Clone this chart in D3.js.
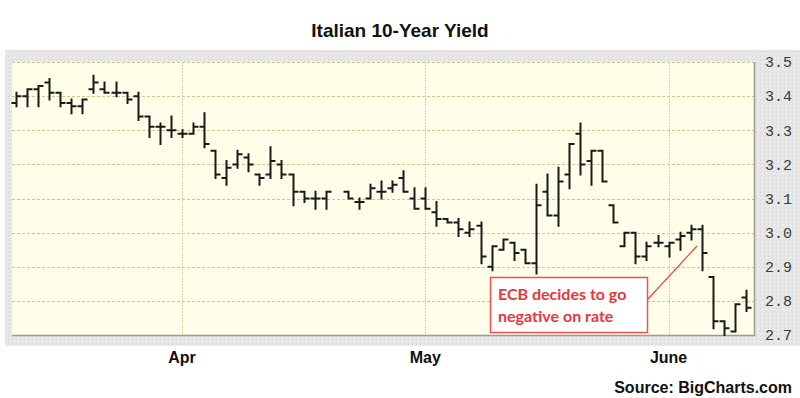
<!DOCTYPE html>
<html>
<head>
<meta charset="utf-8">
<script src="https://cdn.jsdelivr.net/npm/d3@7"></script>
<style>
  body { margin: 0; background: #fff; }
</style>
</head>
<body>
<script>
// trading days (Apr 21 is an empty slot)
const days = ["03-11","03-12","03-13","03-14","03-17","03-18","03-19","03-20","03-21","03-24",
  "03-25","03-26","03-27","03-28","03-31","04-01","04-02","04-03","04-04","04-07",
  "04-08","04-09","04-10","04-11","04-14","04-15","04-16","04-17","04-18","04-21",
  "04-22","04-23","04-24","04-25","04-28","04-29","04-30","05-01","05-02","05-05",
  "05-06","05-07","05-08","05-09","05-12","05-13","05-14","05-15","05-16","05-19",
  "05-20","05-21","05-22","05-23","05-26","05-27","05-28","05-29","05-30","06-02",
  "06-03","06-04","06-05","06-06","06-09","06-10","06-11"];

const open = [3.38,3.40,3.42,3.44,3.41,3.38,3.37,3.42,3.42,3.41,
  3.41,3.40,3.34,3.31,3.30,3.29,3.29,3.31,3.24,3.16,
  3.20,3.22,3.17,3.17,3.20,3.17,3.12,3.10,3.10,null,
  3.12,3.09,3.10,3.12,3.13,3.16,3.10,3.10,3.06,3.04,
  3.03,3.00,3.02,2.90,2.95,2.97,2.95,2.91,3.12,3.05,
  3.17,3.29,3.21,3.24,3.08,2.96,3.00,2.93,2.97,2.96,
  2.98,3.00,3.01,2.87,2.74,2.71,2.81];
const high = [3.41,3.42,3.43,3.45,3.41,3.39,3.39,3.46,3.44,3.44,
  3.41,3.41,3.34,3.32,3.34,3.30,3.32,3.35,3.24,3.21,
  3.24,3.23,3.17,3.25,3.21,3.17,3.12,3.12,3.12,null,
  3.12,3.10,3.14,3.15,3.15,3.18,3.13,3.13,3.09,3.04,
  3.04,3.03,3.03,2.96,2.98,2.97,2.95,3.14,3.17,3.19,
  3.26,3.32,3.24,3.24,3.08,3.00,3.00,2.97,2.99,2.97,
  3.00,3.02,3.02,2.87,2.74,2.79,2.83];
const low = [3.37,3.37,3.37,3.39,3.37,3.35,3.35,3.41,3.41,3.40,
  3.38,3.33,3.28,3.26,3.28,3.28,3.29,3.25,3.16,3.14,
  3.19,3.18,3.14,3.16,3.16,3.08,3.09,3.07,3.07,null,
  3.10,3.07,3.10,3.10,3.12,3.12,3.07,3.07,3.02,3.03,
  2.99,2.99,2.91,2.89,2.95,2.92,2.91,2.88,3.05,3.02,
  3.13,3.17,3.14,3.15,3.03,2.96,2.91,2.92,2.96,2.93,
  2.95,2.98,2.89,2.72,2.70,2.71,2.77];
const close = [3.40,3.42,3.43,3.41,3.38,3.37,3.39,3.44,3.41,3.41,
  3.39,3.34,3.31,3.31,3.30,3.29,3.31,3.26,3.17,3.19,
  3.23,3.20,3.16,3.21,3.17,3.12,3.10,3.10,3.12,null,
  3.10,3.09,3.13,3.12,3.14,3.12,3.07,3.07,3.04,3.03,
  3.01,3.01,2.93,2.96,2.98,2.94,2.91,3.08,3.05,3.15,
  3.26,3.20,3.24,3.15,3.03,3.00,2.93,2.96,2.97,2.97,
  2.99,3.01,2.94,2.74,2.72,2.79,2.78];

const monthDays = ["04-01", "05-01", "06-02"];
const monthLabels = ["Apr", "May", "June"];
const yTicks = [2.7, 2.8, 2.9, 3.0, 3.1, 3.2, 3.3, 3.4, 3.5];

const width = 800;
const height = 398;
const plot = { left: 12, top: 62, right: 754, bottom: 335 };

const bars = days.map((d, i) => ({ day: d, o: open[i], h: high[i], l: low[i], c: close[i] }))
  .filter(d => d.o != null);

const svg = d3.create("svg")
  .attr("viewBox", [0, 0, width, height])
  .attr("width", width)
  .attr("height", height)
  .style("font-family", "'Liberation Sans', Arial, sans-serif");

// speckled grey frame
const defs = svg.append("defs");
const pat = defs.append("pattern")
  .attr("id", "speckle")
  .attr("width", 4).attr("height", 4)
  .attr("patternUnits", "userSpaceOnUse");
pat.append("rect").attr("width", 4).attr("height", 4).attr("fill", "#e8e8e8");
pat.append("rect").attr("x", 0).attr("y", 0).attr("width", 1).attr("height", 1).attr("fill", "#d6d6d6");
pat.append("rect").attr("x", 2).attr("y", 1).attr("width", 1).attr("height", 1).attr("fill", "#f4f4f4");
pat.append("rect").attr("x", 1).attr("y", 3).attr("width", 1).attr("height", 1).attr("fill", "#d9d9d9");
pat.append("rect").attr("x", 3).attr("y", 2).attr("width", 1).attr("height", 1).attr("fill", "#dcdcdc");

svg.append("rect")
  .attr("x", 5).attr("y", 50)
  .attr("width", 795).attr("height", 296)
  .attr("fill", "url(#speckle)");

svg.append("rect")
  .attr("x", plot.left).attr("y", plot.top)
  .attr("width", plot.right - plot.left).attr("height", plot.bottom - plot.top)
  .attr("fill", "#fffee8");

const x = d3.scalePoint()
  .domain(days)
  .range([16, 746]);

const y = d3.scaleLinear()
  .domain([2.7, 3.5])
  .range([plot.bottom, plot.top]);

// horizontal grid
svg.append("g")
  .selectAll("line")
  .data(yTicks)
  .join("line")
  .attr("x1", plot.left).attr("x2", plot.right)
  .attr("y1", d => Math.round(y(d)) + 0.5)
  .attr("y2", d => Math.round(y(d)) + 0.5)
  .attr("stroke", "#d2c48e")
  .attr("stroke-dasharray", "3,2");

// month grid
svg.append("g")
  .selectAll("line")
  .data(monthDays)
  .join("line")
  .attr("x1", d => Math.round(x(d)) + 0.5)
  .attr("x2", d => Math.round(x(d)) + 0.5)
  .attr("y1", plot.top).attr("y2", plot.bottom)
  .attr("stroke", "#d8d3a4")
  .attr("stroke-dasharray", "2,1");

// plot bevel
svg.append("path")
  .attr("d", `M${plot.right + 0.5},${plot.top}V${plot.bottom + 0.5}H${plot.left}`)
  .attr("fill", "none")
  .attr("stroke", "#9a9a9a")
  .attr("stroke-width", 1.5);

// OHLC bars
const g = svg.append("g")
  .attr("stroke", "#1a1a1a")
  .attr("stroke-width", 2)
  .attr("fill", "none");

g.selectAll("path")
  .data(bars)
  .join("path")
  .attr("d", d => {
    const cx = Math.round(x(d.day)) + 0.5;
    return `M${cx},${y(d.h) - 1}V${y(d.l) + 1}` +
      `M${cx - 5},${y(d.o)}H${cx}` +
      `M${cx},${y(d.c)}H${cx + 5}`;
  });

// right axis labels
svg.append("g")
  .selectAll("text")
  .data(yTicks)
  .join("text")
  .attr("x", 765)
  .attr("y", d => y(d))
  .attr("dy", "0.35em")
  .attr("fill", "#3a3a3a")
  .style("font-family", "'Liberation Mono', 'DejaVu Sans Mono', monospace")
  .style("font-size", "15px")
  .text(d => d.toFixed(1));

// month labels
svg.append("g")
  .selectAll("text")
  .data(monthDays)
  .join("text")
  .attr("x", d => x(d))
  .attr("y", 363)
  .attr("text-anchor", "middle")
  .style("font-size", "16px")
  .style("font-weight", "bold")
  .attr("fill", "#111")
  .text((d, i) => monthLabels[i]);

svg.append("text")
  .attr("x", 400)
  .attr("y", 37)
  .attr("text-anchor", "middle")
  .style("font-size", "19px")
  .style("font-weight", "bold")
  .attr("fill", "#111")
  .text("Italian 10-Year Yield");

svg.append("text")
  .attr("x", 792)
  .attr("y", 393)
  .attr("text-anchor", "end")
  .style("font-size", "16px")
  .style("font-weight", "bold")
  .attr("fill", "#111")
  .text("Source: BigCharts.com");

// annotation
const note = svg.append("g");
note.append("line")
  .attr("x1", 648).attr("y1", 299)
  .attr("x2", 697).attr("y2", 246)
  .attr("stroke", "#ee4444")
  .attr("stroke-width", 1.2);
note.append("rect")
  .attr("x", 490.5).attr("y", 277.5)
  .attr("width", 157).attr("height", 55)
  .attr("fill", "#fff")
  .attr("stroke", "#ef5050")
  .attr("stroke-width", 1.5);
note.selectAll("text")
  .data(["ECB decides to go", "negative on rate"])
  .join("text")
  .attr("x", 498)
  .attr("y", (d, i) => 300 + i * 22)
  .attr("fill", "#e8373a")
  .style("font-family", "Lato, 'Open Sans', sans-serif")
  .style("font-size", "16px")
  .style("font-weight", "bold")
  .text(d => d);

document.body.appendChild(svg.node());
</script>
</body>
</html>
